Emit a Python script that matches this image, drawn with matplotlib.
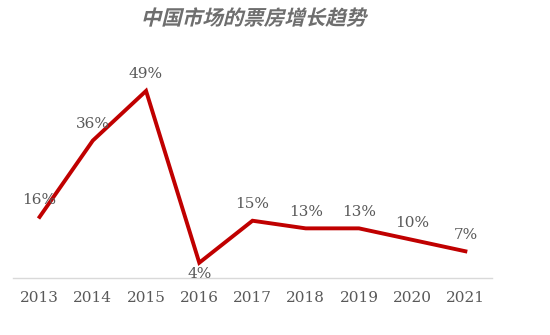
import matplotlib
matplotlib.use('Agg')
import matplotlib.pyplot as plt
from matplotlib.textpath import TextPath
from matplotlib.patches import PathPatch
from matplotlib.font_manager import FontProperties
from matplotlib.transforms import Affine2D

# data
years = ['2013', '2014', '2015', '2016', '2017', '2018', '2019', '2020', '2021']
growth = [16, 36, 49, 4, 15, 13, 13, 10, 7]
labels = ['16%', '36%', '49%', '4%', '15%', '13%', '13%', '10%', '7%']
title = '中国市场的票房增长趋势'

W, H = 550, 335
fig = plt.figure(figsize=(W / 100, H / 100), dpi=100)
ax = fig.add_axes([13 / W, (H - 278) / H, (492 - 13) / W, 210 / H])

x = list(range(len(years)))
ax.plot(x, growth, color='#c00000', lw=2.8, solid_joinstyle='miter')

# labels: above the point, except the dip in 2016
for i, (v, lab) in enumerate(zip(growth, labels)):
    if i == 3:
        ax.annotate(lab, (i, v), xytext=(0, -3), textcoords='offset points',
                    ha='center', va='top', fontsize=11, color='#595959',
                    family='DejaVu Serif')
    else:
        ax.annotate(lab, (i, v), xytext=(0, 7), textcoords='offset points',
                    ha='center', va='bottom', fontsize=11, color='#595959',
                    family='DejaVu Serif')

ax.set_xlim(-0.5, 8.5)
ax.set_ylim(0, 55)
ax.set_xticks(x)
ax.set_xticklabels(years, family='DejaVu Serif', fontsize=11, color='#595959')
ax.tick_params(axis='x', length=0, pad=9)
ax.set_yticks([])
for s in ['top', 'right', 'left']:
    ax.spines[s].set_visible(False)
ax.spines['bottom'].set_color('#d9d9d9')
ax.spines['bottom'].set_linewidth(1)

# title: bold CJK font, slanted by hand since the font has no italic
fp = FontProperties(family='Noto Sans CJK SC', weight='bold')
tp = TextPath((0, 0), title, size=20.5, prop=fp)
bb = tp.get_extents()
tr = (Affine2D().translate(-(bb.x0 + bb.x1) / 2, -(bb.y0 + bb.y1) / 2)
      .skew_deg(14, 0).translate(256, H - 17).scale(1 / W, 1 / H)
      + fig.transFigure)
fig.add_artist(PathPatch(tp, transform=tr, color='#6e6e6e', lw=0))

fig.savefig('out.png', dpi=100)
